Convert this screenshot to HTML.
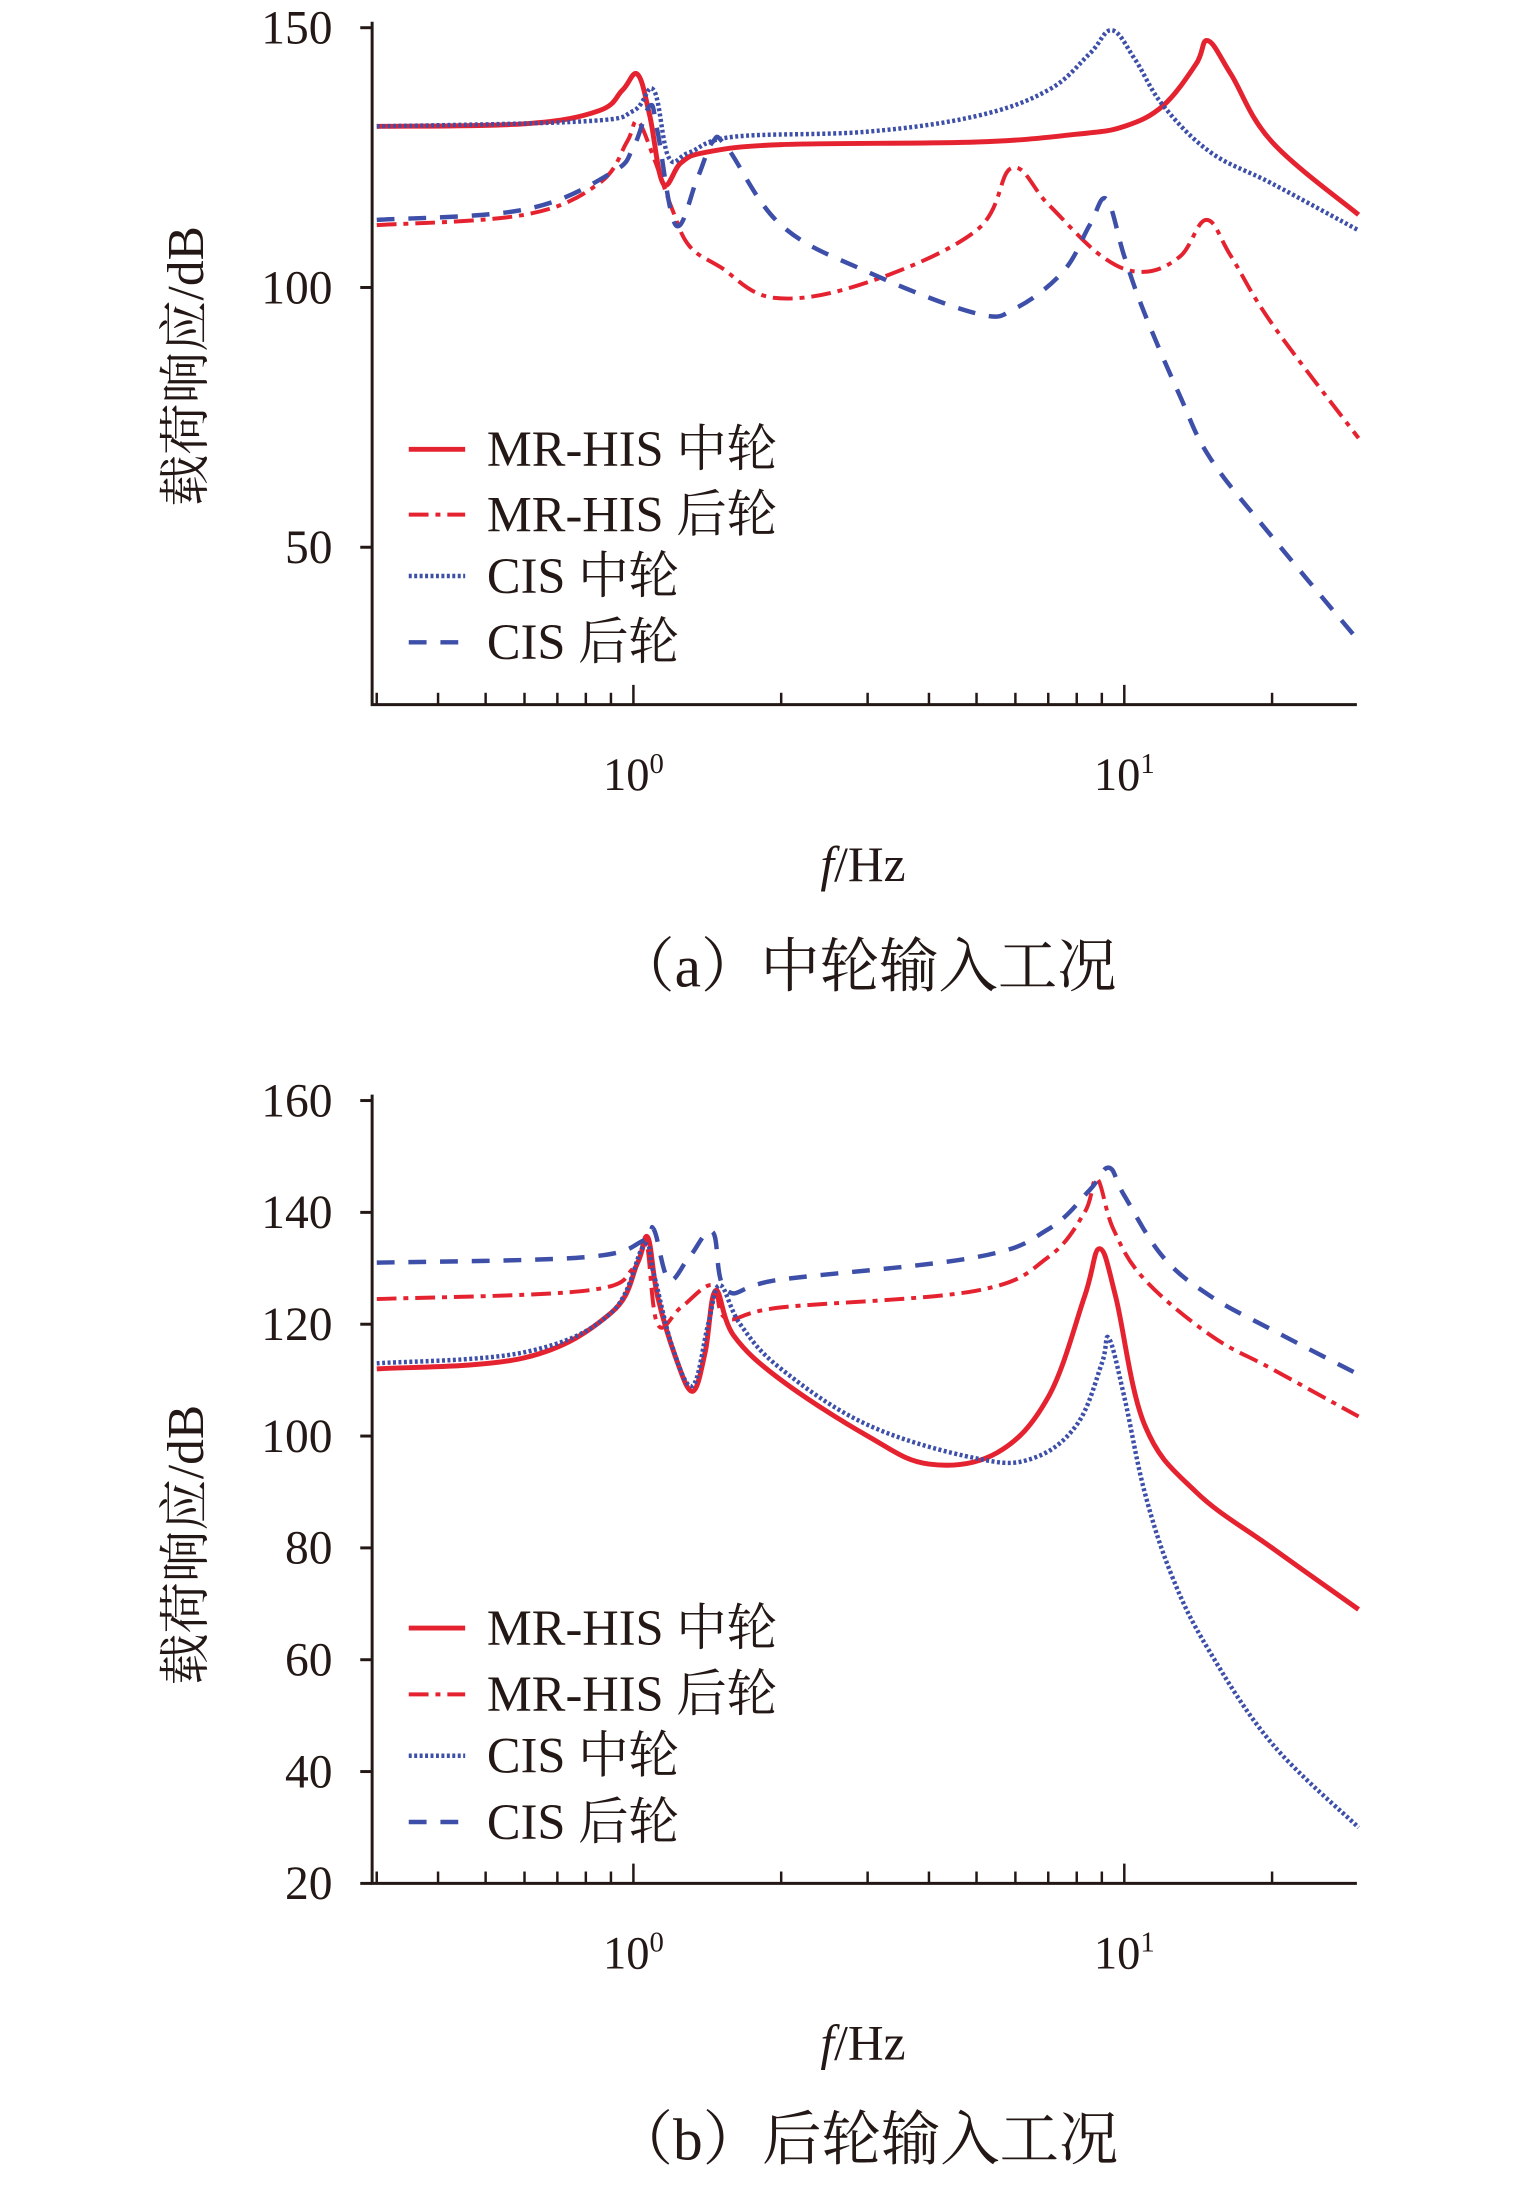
<!DOCTYPE html>
<html><head><meta charset="utf-8"><style>
html,body{margin:0;padding:0;background:#fff;}
svg{display:block}
text{font-family:"Liberation Serif","Noto Serif CJK SC",serif;fill:#231815}
</style></head><body>
<svg width="1535" height="2185" viewBox="0 0 1535 2185" xmlns="http://www.w3.org/2000/svg"><g id="s" transform="scale(0.9897)"></g></svg>
<script>
const S=document.getElementById('s');let h='';
const RED='#e52330',BLUE='#3d4fa8';
const X0=376,X1=1371;
function fx(f){return 640+496*Math.log10(f);}
function path(pts){let d='M'+pts[0][0].toFixed(1)+','+pts[0][1].toFixed(1);
 for(let i=0;i<pts.length-1;i++){const p0=pts[i-1]||pts[i],p1=pts[i],p2=pts[i+1],p3=pts[i+2]||p2;
 const t=0.18;const c1=[p1[0]+(p2[0]-p0[0])*t,p1[1]+(p2[1]-p0[1])*t],c2=[p2[0]-(p3[0]-p1[0])*t,p2[1]-(p3[1]-p1[1])*t];
 d+=' C'+c1.map(v=>v.toFixed(1))+' '+c2.map(v=>v.toFixed(1))+' '+p2.map(v=>v.toFixed(1));}return d;}
const styles={solid:`stroke="${RED}" stroke-width="5"`,dashdot:`stroke="${RED}" stroke-width="4" stroke-dasharray="20,7,5,7"`,
dot:`stroke="${BLUE}" stroke-width="4.5" stroke-dasharray="3,2.5"`,dash:`stroke="${BLUE}" stroke-width="4.5" stroke-dasharray="18,14"`};
function chart(top,bottom,vmax,vmin,ticks,series,legY,ylab){
 const fy=v=>top+(vmax-v)/(vmax-vmin)*(bottom-top);
 series.forEach(s=>{const pts=s[1].map(p=>[fx(p[0]),fy(p[1])]);h+=`<path d="${path(pts)}" fill="none" ${styles[s[0]]}/>`;});
 h+=`<path d="M${X0},${top-6} V${bottom} H${X1}" fill="none" stroke="#231815" stroke-width="3"/>`;
 ticks.forEach(v=>{const y=fy(v);h+=`<line x1="${X0-12}" y1="${y}" x2="${X0}" y2="${y}" stroke="#231815" stroke-width="3"/><text x="${X0-40}" y="${y+16}" font-size="48" text-anchor="end">${v}</text>`;});
 for(let e=-1;e<=1;e++)for(let m=1;m<10;m++){const f=m*Math.pow(10,e);const x=fx(f);if(x<X0+2||x>X1)continue;
  const L=m==1?20:12;h+=`<line x1="${x}" y1="${bottom}" x2="${x}" y2="${bottom-L}" stroke="#231815" stroke-width="2.5"/>`;}
 h+=`<text x="640" y="${bottom+86}" font-size="47" text-anchor="middle">10<tspan font-size="29" dy="-17">0</tspan></text>`;
 h+=`<text x="1136" y="${bottom+86}" font-size="47" text-anchor="middle">10<tspan font-size="29" dy="-17">1</tspan></text>`;
 h+=`<text x="872" y="${bottom+178}" font-size="50" text-anchor="middle"><tspan font-style="italic">f</tspan>/Hz</text>`;
 const names=[['solid','MR-HIS 中轮'],['dashdot','MR-HIS 后轮'],['dot','CIS 中轮'],['dash','CIS 后轮']];
 names.forEach((n,i)=>{const y=legY[i];h+=`<line x1="413" y1="${y}" x2="470" y2="${y}" fill="none" ${styles[n[0]]}/><text x="492" y="${y+17}" font-size="51">${n[1]}</text>`;});
 h+=`<text transform="translate(205,${ylab}) rotate(-90)" font-size="52" text-anchor="middle">载荷响应/dB</text>`;
}
chart(28,712,150,19.7,[150,100,50],[
['solid',[[0.3,131],[0.6,131.5],[0.85,134],[0.95,138],[1.02,141],[1.08,133],[1.15,120],[1.25,124],[1.4,126],[2,127.5],[5,128],[8,129.5],[10,131],[12,135],[14,143],[14.8,147.5],[16.5,141],[20,128],[30,114]]],
['dashdot',[[0.3,112],[0.6,114],[0.85,120],[0.97,128],[1.02,132],[1.1,125],[1.2,115],[1.3,108],[1.5,104],[1.94,98],[3,101],[5,111],[5.9,123],[7,116],[9,106],[10.9,103],[13,106],[14.7,113],[16.5,106],[20,93],[30,71]]],
['dot',[[0.3,131],[0.8,132],[1.0,134],[1.1,138],[1.18,125],[1.3,126],[1.6,129],[3,130],[5,133],[7,138],[8.5,145],[9.43,149.5],[10.5,144],[12,135],[15,126],[20,120],[30,111]]],
['dash',[[0.3,113],[0.6,115],[0.9,122],[1.0,127],[1.08,135],[1.12,130],[1.22,112],[1.35,121],[1.45,128],[1.55,127],[2,112],[3,103],[5,95],[6,96],[7.5,103],[8.5,112],[9.2,117],[10,106],[11,95],[13,79],[15,67],[20,52],[30,32]]]
],[454,520,582,649],370);
chart(1112,1903,160,20,[160,140,120,100,80,60,40,20],[
['solid',[[0.3,112],[0.6,114],[0.9,122],[1.02,131],[1.07,135.5],[1.12,125],[1.22,114],[1.32,108],[1.4,115],[1.47,126],[1.6,118],[2,110],[3,100],[4.0,95],[5.5,97],[7,107],[8.3,125],[8.9,133.5],[9.6,125],[11,102],[14,90],[20,80],[30,69]]],
['dashdot',[[0.3,124.5],[0.8,126],[1.0,130],[1.06,135],[1.12,120],[1.25,123],[1.45,127],[1.55,121],[2,123],[5,126],[7,132],[8.3,140],[8.8,146],[9.5,137],[11,128],[15,118],[20,112],[30,103.5]]],
['dot',[[0.3,113],[0.6,115],[0.9,122],[1.05,134],[1.1,129],[1.2,116],[1.32,109],[1.42,120],[1.5,127],[1.65,120],[2,112],[3,102],[5,96],[6.5,96],[8,102],[9.0,113],[9.3,117.5],[10,107],[11,90],[12.5,75],[14.8,62],[20,45],[30,30]]],
['dash',[[0.3,131],[0.8,132],[1.05,135],[1.1,137],[1.18,128],[1.3,132],[1.45,136.5],[1.55,126],[2,128],[5,132],[7,137],[8.5,144],[9.3,148],[10,143],[12,132],[15,125],[20,119],[30,111]]]
],[1645,1712,1774,1841],1561);
h+=`<text x="875" y="997" font-size="60" text-anchor="middle">（a）中轮输入工况</text>`;
h+=`<text x="875" y="2182" font-size="60" text-anchor="middle">（b）后轮输入工况</text>`;
S.innerHTML=h;
</script>
</body></html>
